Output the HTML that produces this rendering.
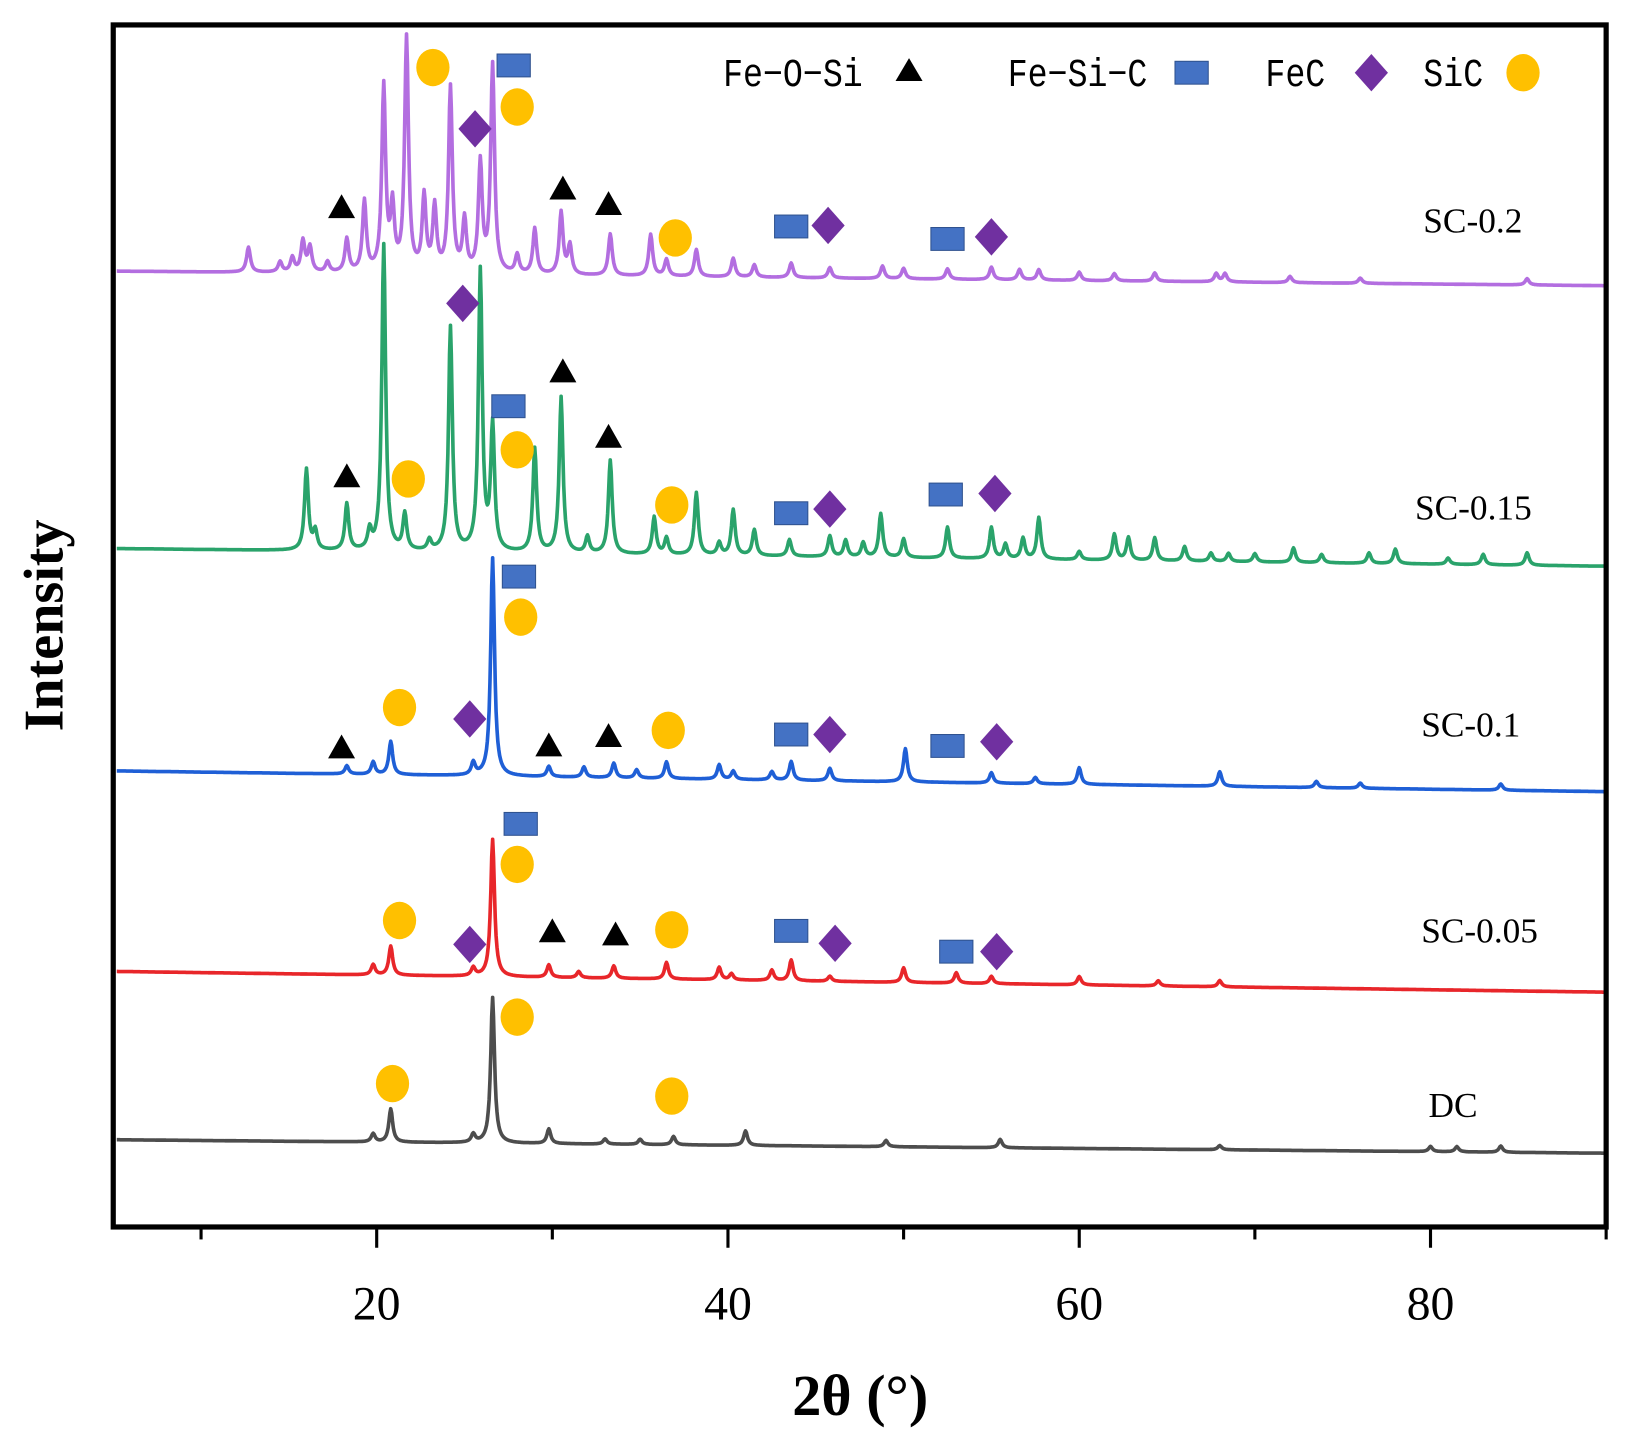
<!DOCTYPE html>
<html><head><meta charset="utf-8"><style>
html,body{margin:0;padding:0;background:#fff;}
svg{display:block;}
text{font-family:"Liberation Serif",serif;}
</style></head><body>
<svg id="chart" width="1629" height="1441" viewBox="0 0 1568 1387" preserveAspectRatio="none" xmlns="http://www.w3.org/2000/svg">
<g id="series"></g>
<g id="markers"></g>
<rect x="109" y="24" width="1437" height="1157" fill="none" stroke="#000" stroke-width="5"/>
<g id="axis"></g>
<text x="828" y="1362" font-size="56" font-weight="bold" text-anchor="middle">2θ (°)</text>
<text transform="translate(60,602) rotate(-90)" font-size="54" font-weight="bold" text-anchor="middle">Intensity</text>
<g font-size="32" style="font-family:'Liberation Mono',monospace">
<text style="font-family:'Liberation Mono',monospace" transform="translate(696,83) scale(1,1.2)">Fe−O−Si</text>
<polygon points="875,56 888,78 862,78" fill="#000"/>
<text style="font-family:'Liberation Mono',monospace" transform="translate(970,83) scale(1,1.2)">Fe−Si−C</text>
<rect x="1131" y="59" width="32" height="22" fill="#4472c4" stroke="#2f528f" stroke-width="1"/>
<text style="font-family:'Liberation Mono',monospace" transform="translate(1218,83) scale(1,1.2)">FeC</text>
<polygon points="1320,52 1336,70 1320,88 1304,70" fill="#7030a0"/>
<text style="font-family:'Liberation Mono',monospace" transform="translate(1370,83) scale(1,1.2)">SiC</text>
<ellipse cx="1466" cy="70" rx="16" ry="18" fill="#ffc000"/>
</g>
</svg>
<script>
// x-axis
const xTicksMajor = [20, 40, 60, 80];
const xTicksMinor = [10, 30, 50, 70, 90];
// series names and baselines
const seriesNames = ["DC", "SC-0.05", "SC-0.1", "SC-0.15", "SC-0.2"];
const seriesColors = ["#4d4d4d", "#e8262a", "#1f5fd6", "#2aa36b", "#b36ee0"];
const baseStart = [1097, 935, 742, 528, 261];
const baseEnd = [1110, 955, 762, 545, 275];
const labelY = [1063, 895, 697, 488, 212];
const labelX = [1375, 1368, 1368, 1362, 1370];
// peak positions (deg) and heights for each series
const peaksDC = [19.8, 20.8, 25.5, 26.6, 29.8, 33, 35, 36.9, 41, 49, 55.5, 68, 80, 81.5, 84];
const heightsDC = [8, 32, 8, 140, 14, 5, 5, 8, 14, 6, 8, 4, 5, 5, 6];
const peaks005 = [19.8, 20.8, 25.5, 26.6, 29.8, 31.5, 33.5, 36.5, 39.5, 40.2, 42.5, 43.6, 45.8, 50, 53, 55, 60, 64.5, 68];
const heights005 = [10, 28, 8, 132, 12, 6, 12, 16, 12, 6, 10, 20, 5, 14, 10, 7, 8, 5, 6];
const peaks01 = [18.3, 19.8, 20.8, 25.5, 26.6, 29.8, 31.8, 33.5, 34.8, 36.5, 39.5, 40.3, 42.5, 43.6, 45.8, 50.1, 55, 57.5, 60, 68, 73.5, 76, 84];
const heights01 = [8, 12, 32, 12, 210, 10, 10, 14, 8, 16, 14, 8, 8, 18, 12, 32, 10, 6, 16, 14, 6, 5, 6];
const peaks015 = [16, 16.5, 18.3, 19.6, 20.4, 21.6, 23, 24.2, 25.9, 26.6, 29, 30.5, 32, 33.3, 35.8, 36.5, 38.2, 39.5, 40.3, 41.5, 43.5, 45.8, 46.7, 47.7, 48.7, 50, 52.5, 55, 55.8, 56.8, 57.7, 60, 62, 62.8, 64.3, 66, 67.5, 68.5, 70, 72.2, 73.8, 76.5, 78, 81, 83, 85.5];
const heights015 = [78, 18, 45, 18, 295, 35, 10, 216, 270, 120, 100, 150, 16, 90, 36, 16, 60, 12, 44, 25, 16, 20, 16, 14, 42, 18, 30, 30, 14, 20, 40, 8, 25, 22, 22, 14, 8, 8, 8, 14, 8, 10, 14, 6, 10, 12];
const peaks02 = [12.7, 14.5, 15.2, 15.8, 16.2, 17.2, 18.3, 19.3, 20.4, 20.9, 21.7, 22.7, 23.3, 24.2, 25, 25.9, 26.6, 28, 29, 30.5, 31, 33.3, 35.6, 36.5, 38.2, 40.3, 41.5, 43.6, 45.8, 48.8, 50, 52.5, 55, 56.6, 57.7, 60, 62, 64.3, 67.8, 68.3, 72, 76, 85.5];
const heights02 = [24, 10, 14, 30, 24, 10, 32, 68, 178, 60, 225, 72, 62, 178, 50, 105, 200, 18, 44, 60, 28, 40, 40, 16, 26, 18, 12, 14, 10, 12, 10, 10, 12, 10, 10, 8, 7, 8, 8, 8, 6, 5, 6];
const allPeaks = [peaksDC, peaks005, peaks01, peaks015, peaks02];
const allHeights = [heightsDC, heights005, heights01, heights015, heights02];
// marker annotations: type (c=SiC, s=Fe-Si-C, d=FeC, t=Fe-O-Si), position (deg), y (px)
const markerTypes = [
 "c","c","c",
 "s","c","c","d","t","t","c","s","d","s","d",
 "s","c","c","d","t","t","t","c","s","d","s","d",
 "d","t","s","c","t","t","c","c","s","d","s","d",
 "c","s","c","d","t","t","t","c","s","d","s","d"];
const markerX = [
 28.0,20.9,36.8,
 28.2,28.0,21.3,25.3,30.0,33.6,36.8,43.6,46.1,53.0,55.3,
 28.1,28.2,21.3,25.3,18.0,29.8,33.2,36.6,43.6,45.8,52.5,55.3,
 24.9,30.6,27.5,28.0,33.2,18.3,21.8,36.8,43.6,45.8,52.4,55.2,
 23.2,27.8,28.0,25.6,18.0,30.6,33.2,37.0,43.6,45.7,52.5,55.0];
const markerY = [
 979,1043,1055,
 793,832,886,909,897,900,895,896,908,916,916,
 555,594,681,692,720,718,709,703,707,707,718,714,
 292,358,391,433,421,459,461,486,494,490,476,475,
 65,63,103,124,200,182,197,229,218,217,230,228];

const NS = "http://www.w3.org/2000/svg";
const X0 = 5, X1 = 90, PX0 = 109, PX1 = 1546;
function xScale(d){ return PX0 + (d - X0) / (X1 - X0) * (PX1 - PX0); }
const sg = document.getElementById("series");
for (let s = 0; s < seriesNames.length; s++) {
  let pts = [];
  for (let d = 5.2; d <= 89.9; d += 0.05) {
    let base = baseStart[s] + (baseEnd[s] - baseStart[s]) * (d - 5) / 85;
    let y = 0;
    const pk = allPeaks[s], h = allHeights[s];
    for (let i = 0; i < pk.length; i++) {
      const u = (d - pk[i]) / 0.13;
      y += h[i] / (1 + u * u);
    }
    pts.push(xScale(d).toFixed(1) + "," + (base - y).toFixed(1));
  }
  const p = document.createElementNS(NS, "polyline");
  p.setAttribute("points", pts.join(" "));
  p.setAttribute("fill", "none");
  p.setAttribute("stroke", seriesColors[s]);
  p.setAttribute("stroke-width", "3.5");
  p.setAttribute("stroke-linejoin", "round");
  
  
  sg.appendChild(p);
  const t = document.createElementNS(NS, "text");
  t.setAttribute("x", labelX[s]); t.setAttribute("y", labelY[s] + 12);
  t.setAttribute("font-size", "34");
  t.textContent = seriesNames[s];
  
  
  sg.appendChild(t);
}
const mg = document.getElementById("markers");
for (let i = 0; i < markerTypes.length; i++) {
  const x = xScale(markerX[i]), y = markerY[i], k = markerTypes[i];
  let el;
  if (k === "c") { el = document.createElementNS(NS, "ellipse"); el.setAttribute("cx", x); el.setAttribute("cy", y); el.setAttribute("rx", 16); el.setAttribute("ry", 18); el.setAttribute("fill", "#ffc000"); }
  else if (k === "s") { el = document.createElementNS(NS, "rect"); el.setAttribute("x", x - 16); el.setAttribute("y", y - 11); el.setAttribute("width", 32); el.setAttribute("height", 22); el.setAttribute("fill", "#4472c4"); el.setAttribute("stroke", "#2f528f"); }
  else if (k === "d") { el = document.createElementNS(NS, "polygon"); el.setAttribute("points", `${x},${y-18} ${x+16},${y} ${x},${y+18} ${x-16},${y}`); el.setAttribute("fill", "#7030a0"); }
  else { el = document.createElementNS(NS, "polygon"); el.setAttribute("points", `${x},${y-13} ${x+13},${y+10} ${x-13},${y+10}`); el.setAttribute("fill", "#000"); }
  
  
  mg.appendChild(el);
}
const ag = document.getElementById("axis");
xTicksMajor.forEach(v => {
  const l = document.createElementNS(NS, "line");
  l.setAttribute("x1", xScale(v)); l.setAttribute("x2", xScale(v));
  l.setAttribute("y1", 1181); l.setAttribute("y2", 1201);
  l.setAttribute("stroke", "#000"); l.setAttribute("stroke-width", "3");
  
  
  ag.appendChild(l);
  const t = document.createElementNS(NS, "text");
  t.setAttribute("x", xScale(v)); t.setAttribute("y", 1270);
  t.setAttribute("font-size", "46"); t.setAttribute("text-anchor", "middle");
  t.textContent = v;
  
  
  ag.appendChild(t);
});
xTicksMinor.forEach(v => {
  const l = document.createElementNS(NS, "line");
  l.setAttribute("x1", xScale(v)); l.setAttribute("x2", xScale(v));
  l.setAttribute("y1", 1181); l.setAttribute("y2", 1193);
  l.setAttribute("stroke", "#000"); l.setAttribute("stroke-width", "3");
  
  
  ag.appendChild(l);
});
</script>
</body></html>
